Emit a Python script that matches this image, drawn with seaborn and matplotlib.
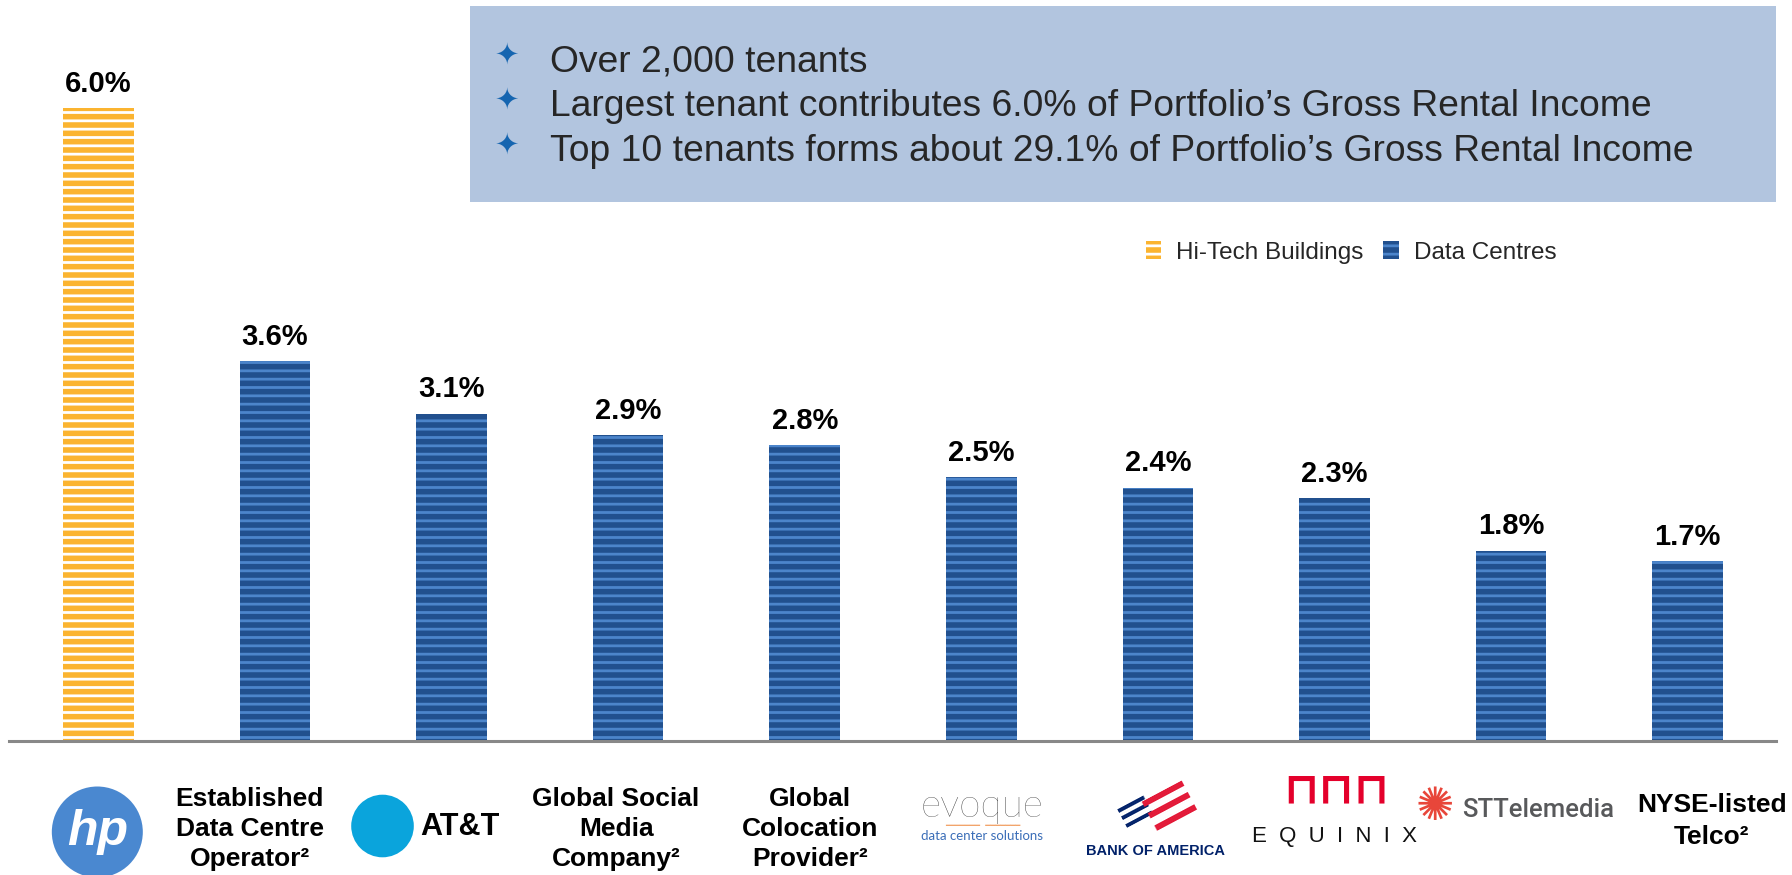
import matplotlib
matplotlib.use("Agg")
import matplotlib.pyplot as plt
import seaborn as sns
import pandas as pd
from matplotlib.patches import Patch, Rectangle

# Top 10 tenants by share of gross rental income (%)
tenants = ["HP", "Established Data Centre Operator", "AT&T", "Global Social Media Company",
           "Global Colocation Provider", "Evoque", "Bank of America", "Equinix",
           "ST Telemedia", "NYSE-listed Telco"]
shares = [6.0, 3.6, 3.1, 2.9, 2.8, 2.5, 2.4, 2.3, 1.8, 1.7]
segments = ["Hi-Tech Buildings"] + ["Data Centres"] * 9
segment_order = ["Hi-Tech Buildings", "Data Centres"]
name_labels = ["hp", "Established\nData Centre\nOperator²", "AT&T", "Global Social\nMedia\nCompany²",
               "Global\nColocation\nProvider²", "evoque", "BANK OF AMERICA", "E  Q  U  I  N  I  X",
               "STTelemedia", "NYSE-listed\nTelco²"]
highlights = ["Over 2,000 tenants",
              "Largest tenant contributes 6.0% of Portfolio’s Gross Rental Income",
              "Top 10 tenants forms about 29.1% of Portfolio’s Gross Rental Income"]

fills = {"Hi-Tech Buildings": "#FBB430", "Data Centres": "#21508E"}
hatch_colors = {"Hi-Tech Buildings": "#FFFFFF", "Data Centres": "#4C85CB"}

df = pd.DataFrame({"tenant": tenants, "share": shares, "segment": segments})

sns.set_theme(style="white")
plt.rcParams["font.family"] = ["Liberation Sans", "DejaVu Sans"]
plt.rcParams["hatch.linewidth"] = 2.0

W, H = 1792, 875
base_px = 740.6  # y pixel of the baseline
px = 0.72        # points per pixel at dpi 100

fig = plt.figure(figsize=(W / 100, H / 100), dpi=100)
ax = fig.add_axes([8.6 / W, (H - base_px) / H, (1776 - 8.6) / W, base_px / H])

sns.barplot(data=df, x="tenant", y="share", hue="segment", hue_order=segment_order,
            palette=fills, dodge=False, width=0.4, saturation=1, legend=False, ax=ax)

for cont, seg in zip(ax.containers, segment_order):
    for bar in cont:
        bar.set_hatch("--")
        bar.set_edgecolor(hatch_colors[seg])
        bar.set_linewidth(0)
    ax.bar_label(cont, fmt="%.1f%%", padding=7.5, fontsize=21, fontweight="bold", color="black")

ax.set_xlim(-0.508, 9.5)
ax.set_ylim(0, base_px / 105.4)
ax.set_xticks([])
ax.set_yticks([])
ax.set_xlabel("")
ax.set_ylabel("")
for s in ["left", "right", "top"]:
    ax.spines[s].set_visible(False)
ax.spines["bottom"].set_color("#888888")
ax.spines["bottom"].set_linewidth(2.2)

# legend
handles = [Patch(facecolor=fills[s], edgecolor=hatch_colors[s], hatch="--", linewidth=0, label=s)
           for s in segment_order]
ax.legend(handles=handles, loc="center left", bbox_to_anchor=(1146 / W, 1 - 252.6 / H),
          bbox_transform=fig.transFigure, ncol=2, frameon=False, fontsize=17.5,
          handlelength=0.63, handleheight=0.75, handletextpad=0.62, columnspacing=0.8,
          borderpad=0, borderaxespad=0)

# highlight box
fig.add_artist(Rectangle((470 / W, 1 - 202 / H), 1306 / W, 196 / H, transform=fig.transFigure,
                         facecolor="#B2C5DF", edgecolor="none", zorder=1))
for k, line in enumerate(highlights):
    fig.text(507 / W, 1 - (56 + 45 * k) / H, "✦", family="DejaVu Sans", color="#1565B0",
             fontsize=21, ha="center", va="center", zorder=3)
    fig.text(550 / W, 1 - (71 + 45 * k) / H, line, fontsize=26.8, va="baseline", zorder=3)


def name(i, text, dx, dy, **kw):
    ax.annotate(text, xy=(i, 0), xycoords=("data", "axes fraction"),
                xytext=(dx * px, -dy * px), textcoords="offset points",
                ha="center", va="center", annotation_clip=False, **kw)


bold = dict(fontsize=19, fontweight="bold", color="black", linespacing=1.3)

# HP
name(0, name_labels[0], -1, 91.4, fontsize=36, fontweight="bold", fontstyle="italic", color="white",
     bbox=dict(boxstyle="circle,pad=0.3", fc="#4A88D0", ec="none"))
name(1, name_labels[1], -25, 88.4, **bold)
# AT&T
name(2, " ", -69, 85.4, fontsize=10, bbox=dict(boxstyle="circle,pad=1.75", fc="#0AA4DC", ec="none"))
name(2, name_labels[2], 8, 86, fontsize=22, fontweight="bold", color="black")
name(3, name_labels[3], -12, 88.4, **bold)
name(4, name_labels[4], 5, 88.4, **bold)
# evoque
ax.annotate(name_labels[5], xy=(5, 0), xycoords=("data", "axes fraction"),
            xytext=(1 * px, -76.4 * px), textcoords="offset points", ha="center", va="baseline",
            fontsize=28, family=["Lato", "DejaVu Sans"], fontweight="light", color="#333333",
            annotation_clip=False)
name(5, "data center solutions", 1, 95, fontsize=9.5, family=["Lato", "DejaVu Sans"], color="#3B6EB8")
name(5, "━━━━━━━  ━━━━━━━", 1, 84.4, fontsize=6, family="DejaVu Sans", color="#F2A46B")
# Bank of America
name(6, "≡", -22, 70, fontsize=34, family="DejaVu Sans", color="#012169", rotation=28)
name(6, "≡", 12, 64, fontsize=52, family="DejaVu Sans", color="#E31837", rotation=28)
name(6, name_labels[6], -2, 110, fontsize=10.5, fontweight="bold", color="#012169")
# Equinix
name(7, "⊓⊓⊓", 2, 50, fontsize=32, family="DejaVu Sans", fontweight="bold", color="#E4002B")
name(7, name_labels[7], 0, 96, fontsize=16, color="#111111")
# ST Telemedia
name(8, "✺", -76, 67, fontsize=33, family="DejaVu Sans", color="#E8463A")
name(8, name_labels[8], 27, 69, fontsize=18.5, family=["Roboto", "DejaVu Sans"], fontweight="medium",
     color="#58595B")
name(9, name_labels[9], 24, 80.6, fontsize=19, fontweight="bold", color="black", linespacing=1.4)

fig.savefig("out.png", dpi=100)
